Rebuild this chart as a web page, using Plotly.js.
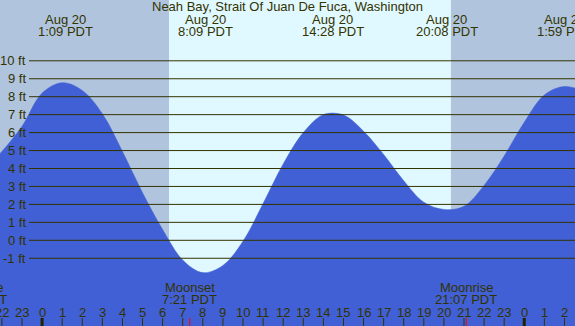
<!DOCTYPE html>
<html><head><meta charset="utf-8">
<script src="https://cdn.plot.ly/plotly-3.0.1.min.js"></script>
<style>html,body{margin:0;padding:0;overflow:hidden;background:#fff}#chart{width:575px;height:326px}</style>
</head><body><div id="chart"></div>
<script>
// ---- data ----
const stationTitle = "Neah Bay, Strait Of Juan De Fuca, Washington";
const tideHours = [-3, -2, -1, 0, 1, 2, 3, 4, 5, 6, 7, 8, 9, 10, 11, 12, 13, 14, 15, 16, 17, 18, 19, 20, 21, 22, 23, 24, 25, 26, 27];
const tideFeet  = [3.75, 4.95, 6.35, 8.2, 8.78, 8.35, 7.05, 4.95, 2.65, 0.6, -1.1, -1.8, -1.4, -0.05, 2.05, 4.25, 6.0, 7.0, 6.98, 6.08, 4.78, 3.32, 2.12, 1.72, 1.9, 3.06, 4.7, 6.58, 8.1, 8.57, 8.3];
const extremeHours = [1.15, 8.15, 14.467, 20.133, 25.983];
const extremeDates = ["Aug 20", "Aug 20", "Aug 20", "Aug 20", "Aug 21"];
const extremeTimes = ["1:09 PDT", "8:09 PDT", "14:28 PDT", "20:08 PDT", "1:59 PDT"];
const footLevels = [-1, 0, 1, 2, 3, 4, 5, 6, 7, 8, 9, 10];
const footLabels = ["-1 ft", "0 ft", "1 ft", "2 ft", "3 ft", "4 ft", "5 ft", "6 ft", "7 ft", "8 ft", "9 ft", "10 ft"];
const hourTicks = [-2, -1, 0, 1, 2, 3, 4, 5, 6, 7, 8, 9, 10, 11, 12, 13, 14, 15, 16, 17, 18, 19, 20, 21, 22, 23, 24, 25, 26];
const hourLabels = ["22", "23", "0", "1", "2", "3", "4", "5", "6", "7", "8", "9", "10", "11", "12", "13", "14", "15", "16", "17", "18", "19", "20", "21", "22", "23", "0", "1", "2"];
const midnightHours = [0, 24];
const moonHours = [-3.28, 7.35, 21.117];
const moonNames = ["Moonrise", "Moonset", "Moonrise"];
const moonTimes = ["20:43 PDT", "7:21 PDT", "21:07 PDT"];
const sunriseHour = 6.317;
const sunsetHour = 20.35;

// ---- style ----
const W = 575, H = 326;
const xRange = [-2.0956, 26.525];
const yRange = [-4.774, 13.387];
const NIGHT = '#b0c4de', DAY = '#e0f8ff', TIDE = '#4160d5', INK = '#333300';
const FONT = {family: 'Liberation Sans, Arial, sans-serif', size: 13, color: INK};
const py = px => 1 - px / H;          // pixel row -> paper y
const px2 = h => (h - xRange[0]) / (xRange[1] - xRange[0]);

const traces = [
  {x: [xRange[0] - 2, xRange[1] + 2], y: [yRange[0], yRange[0]], mode: 'lines',
   line: {width: 0, color: TIDE}, hoverinfo: 'skip', showlegend: false},
  {x: tideHours, y: tideFeet, mode: 'lines', fill: 'tonexty', fillcolor: TIDE,
   line: {shape: 'spline', smoothing: 1, width: 0.5, color: TIDE}, hoverinfo: 'skip', showlegend: false}
];

const shapes = [];
shapes.push({type: 'rect', xref: 'x', yref: 'paper', x0: sunriseHour, x1: sunsetHour, y0: 0, y1: 1,
  fillcolor: DAY, line: {width: 0}, layer: 'below'});
footLevels.forEach(v => shapes.push({type: 'line', xref: 'paper', yref: 'y', x0: 29 / W, x1: 1, y0: v, y1: v,
  line: {color: INK, width: 1}, layer: 'above'}));
hourTicks.forEach(h => {
  const mid = midnightHours.includes(h);
  shapes.push({type: 'line', xref: 'x', yref: 'paper', x0: h, x1: h, y0: 0, y1: 8 / H,
    line: {color: mid ? '#222200' : INK, width: mid ? 3 : 1}, layer: 'above'});
});
moonHours.forEach(h => shapes.push({type: 'line', xref: 'x', yref: 'paper', x0: h, x1: h, y0: 0, y1: 8 / H,
  line: {color: '#ff0000', width: 1}, layer: 'above'}));

const annotations = [];
const ann = (o) => annotations.push(Object.assign({showarrow: false, font: FONT, borderpad: 0}, o));
ann({text: stationTitle, xref: 'paper', yref: 'paper', x: 0.5, y: py(7), xanchor: 'center', yanchor: 'middle'});
extremeHours.forEach((h, i) => {
  ann({text: extremeDates[i], xref: 'x', yref: 'paper', x: h, y: py(20), xanchor: 'center', yanchor: 'middle'});
  ann({text: extremeTimes[i], xref: 'x', yref: 'paper', x: h, y: py(31), xanchor: 'center', yanchor: 'middle'});
});
footLevels.forEach((v, i) => ann({text: footLabels[i], xref: 'paper', yref: 'y', x: 27 / W, y: v, xanchor: 'right', yanchor: 'middle'}));
hourTicks.forEach((h, i) => ann({text: hourLabels[i], xref: 'x', yref: 'paper', x: h, y: py(312), xanchor: 'center', yanchor: 'middle'}));
moonHours.forEach((h, i) => {
  ann({text: moonNames[i], xref: 'paper', yref: 'paper', x: px2(h), y: py(287.5), xanchor: 'center', yanchor: 'middle'});
  ann({text: moonTimes[i], xref: 'paper', yref: 'paper', x: px2(h), y: py(299.5), xanchor: 'center', yanchor: 'middle'});
});

const layout = {
  width: W, height: H, margin: {l: 0, r: 0, t: 0, b: 0, pad: 0},
  paper_bgcolor: NIGHT, plot_bgcolor: NIGHT,
  xaxis: {range: xRange, visible: false, fixedrange: true},
  yaxis: {range: yRange, visible: false, fixedrange: true},
  shapes: shapes, annotations: annotations, showlegend: false
};
Plotly.newPlot('chart', traces, layout, {staticPlot: true, displayModeBar: false});
</script>
</body></html>
